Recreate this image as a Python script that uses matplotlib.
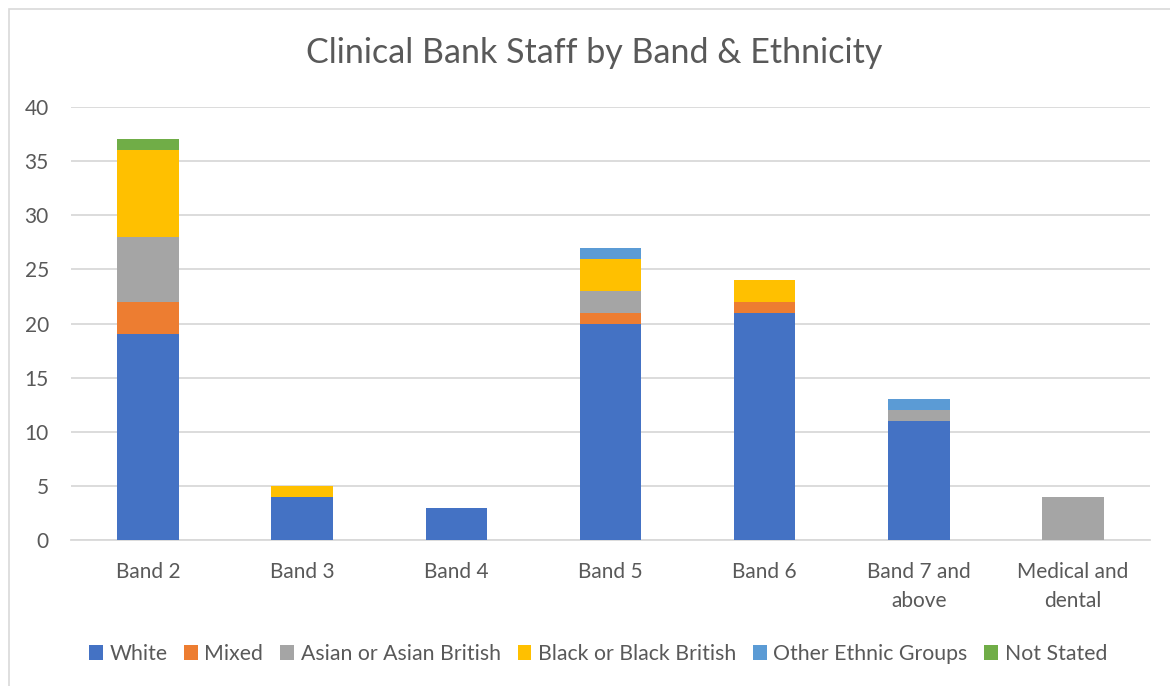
import matplotlib.pyplot as plt
import matplotlib.patches as patches
import numpy as np

# Данные
bands = ["Band 2", "Band 3", "Band 4", "Band 5", "Band 6", "Band 7 and\nabove", "Medical and\ndental"]
white = [19, 4, 3, 20, 21, 11, 0]
mixed = [3, 0, 0, 1, 1, 0, 0]
asian = [6, 0, 0, 2, 0, 1, 4]
black = [8, 1, 0, 3, 2, 0, 0]
other = [0, 0, 0, 1, 0, 1, 0]
not_stated = [1, 0, 0, 0, 0, 0, 0]

series = [
    ("White", white, "#4472C4"),
    ("Mixed", mixed, "#ED7D31"),
    ("Asian or Asian British", asian, "#A5A5A5"),
    ("Black or Black British", black, "#FFC000"),
    ("Other Ethnic Groups", other, "#5B9BD5"),
    ("Not Stated", not_stated, "#70AD47"),
]

plt.rcParams['font.family'] = ['Lato', 'DejaVu Sans']
text_col = "#595959"

fig = plt.figure(figsize=(11.7, 6.86), dpi=100)
ax = fig.add_axes([71 / 1170, 146 / 686, (1150 - 71) / 1170, (540 - 107) / 686])

x = np.arange(len(bands))
bottom = np.zeros(len(bands))
for name, vals, col in series:
    vals = np.array(vals, dtype=float)
    ax.bar(x, vals, 0.4, bottom=bottom, color=col, label=name, zorder=3)
    bottom += vals

ax.set_xlim(-0.5, len(bands) - 0.5)
ax.set_ylim(0, 40)
ax.set_yticks(range(0, 41, 5))
ax.grid(axis='y', color="#D9D9D9", linewidth=1.3, zorder=0)
for s in ax.spines.values():
    s.set_visible(False)
ax.spines['bottom'].set_visible(True)
ax.spines['bottom'].set_color("#D9D9D9")
ax.spines['bottom'].set_linewidth(1.3)
ax.tick_params(axis='both', length=0, labelsize=15, colors=text_col)
ax.tick_params(axis='y', pad=16)
ax.tick_params(axis='x', pad=16)
ax.set_xticks(x)
ax.set_xticklabels(bands, linespacing=1.55)

fig.text(594 / 1170, 1 - 53 / 686, "Clinical Bank Staff by Band & Ethnicity",
         ha='center', va='center', fontsize=24.5, color=text_col)

fig.legend(loc='center', bbox_to_anchor=(598 / 1170, 1 - 654 / 686), ncol=6,
           frameon=False, fontsize=15.3, labelcolor=text_col,
           handlelength=0.65, handleheight=0.65, handletextpad=0.3, columnspacing=0.8)

# рамка диаграммы
fig.patches.append(patches.Rectangle((9 / 1170, -0.05), 1.1, 1 - 9 / 686 + 0.05,
                                     transform=fig.transFigure, fill=False,
                                     edgecolor="#D9D9D9", linewidth=1.2))

fig.savefig("out.png", dpi=100)
